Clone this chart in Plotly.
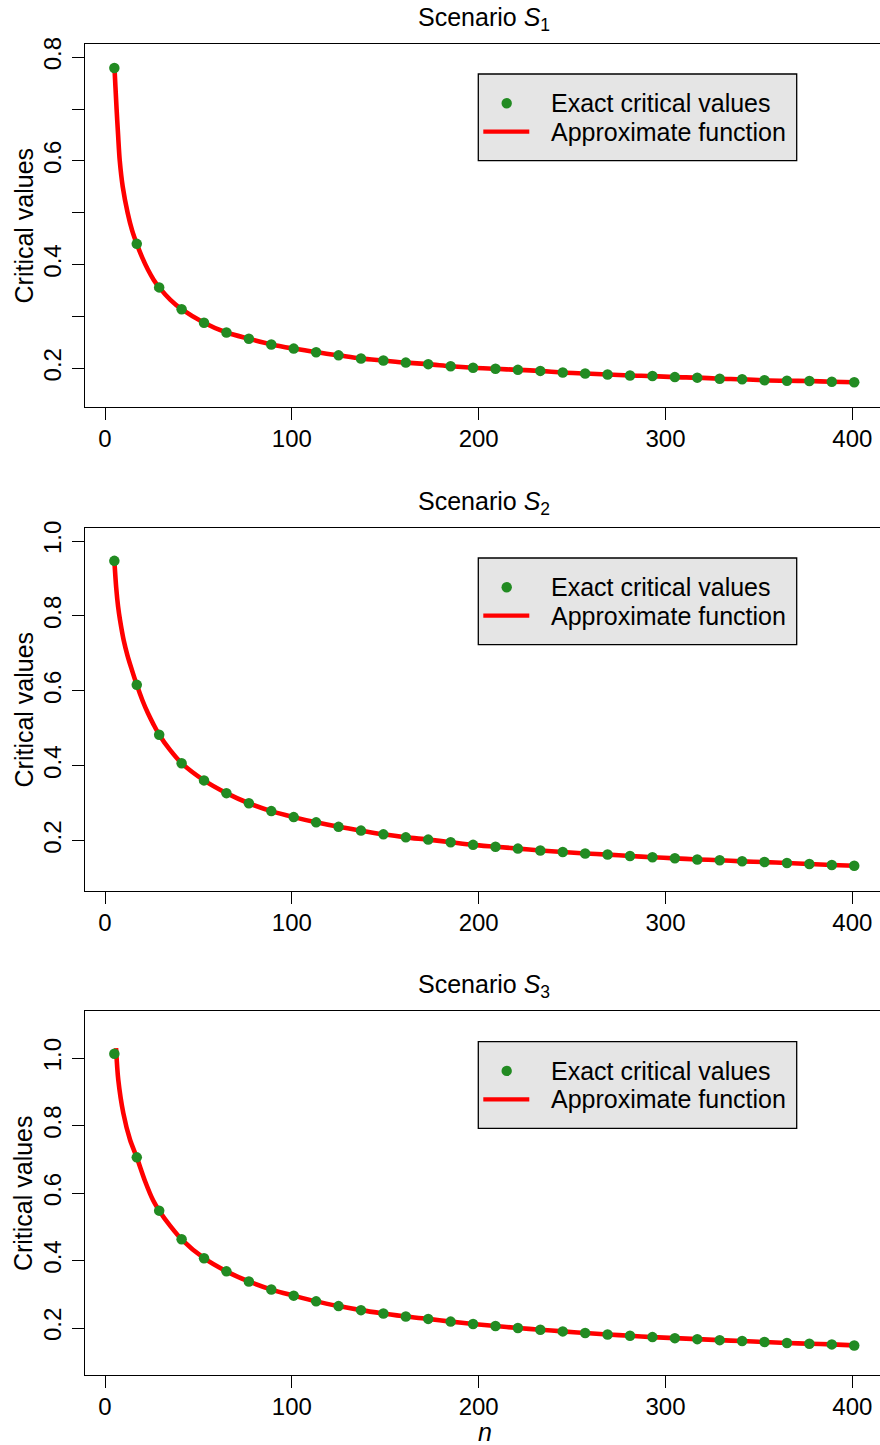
import plotly.graph_objects as go

# ---------------- data ----------------
n_exact = [5, 17, 29, 41, 53, 65, 77, 89, 101, 113, 125, 137, 149, 161, 173, 185, 197,
           209, 221, 233, 245, 257, 269, 281, 293, 305, 317, 329, 341, 353, 365, 377, 389, 401]

s1_exact = [0.779, 0.440, 0.356, 0.314, 0.288, 0.269, 0.257, 0.246, 0.238, 0.231, 0.225, 0.219,
            0.215, 0.211, 0.208, 0.204, 0.201, 0.199, 0.197, 0.195, 0.192, 0.190, 0.188, 0.186,
            0.185, 0.183, 0.182, 0.180, 0.179, 0.177, 0.176, 0.1755, 0.174, 0.173]

s2_exact = [0.947, 0.616, 0.483, 0.407, 0.361, 0.327, 0.300, 0.279, 0.263, 0.249, 0.237, 0.227,
            0.217, 0.209, 0.203, 0.196, 0.189, 0.184, 0.179, 0.174, 0.170, 0.166, 0.163, 0.159,
            0.156, 0.153, 0.150, 0.148, 0.145, 0.143, 0.1405, 0.138, 0.135, 0.133]

s3_exact = [1.013, 0.706, 0.548, 0.463, 0.407, 0.368, 0.338, 0.314, 0.296, 0.279, 0.265, 0.253,
            0.243, 0.234, 0.227, 0.219, 0.212, 0.206, 0.200, 0.195, 0.190, 0.185, 0.181, 0.177,
            0.173, 0.170, 0.167, 0.164, 0.1615, 0.1585, 0.1556, 0.1535, 0.1514, 0.1484]

# approximate-function curves: dense start, then the same n grid as the exact values
n_head_s1 = [5, 5.6, 6.2, 7, 7.9, 9.5, 12.1, 14.5, 17, 20, 23, 26, 29, 35, 41]
s1_head = [0.785, 0.742, 0.700, 0.650, 0.600, 0.550, 0.500, 0.466, 0.440, 0.413, 0.390, 0.371,
           0.356, 0.332, 0.314]

n_head_s2 = [5, 6, 7, 8, 10, 12, 14, 17, 20, 23, 26, 29, 35, 41]
s2_head = [0.947, 0.875, 0.825, 0.790, 0.735, 0.695, 0.662, 0.616, 0.575, 0.540, 0.510, 0.483,
           0.441, 0.407]

n_head_s3 = [5.9, 7.1, 9.8, 13.4, 17, 21.4, 25.8, 29, 35, 41]
s3_head = [1.030, 0.936, 0.837, 0.758, 0.706, 0.636, 0.578, 0.548, 0.502, 0.463]

titles = ["Scenario <i>S</i><sub>1</sub>", "Scenario <i>S</i><sub>2</sub>", "Scenario <i>S</i><sub>3</sub>"]
legend_labels = ["Exact critical values", "Approximate function"]
y_label = "Critical values"
x_label = "<i>n</i>"
x_ticks = [0, 100, 200, 300, 400]

# ---------------- layout constants (pixels) ----------------
W, H = 880, 1445
FONT = "Liberation Sans, Arial, Helvetica, sans-serif"
FS = 25       # titles, legend, axis labels
FS_TICK = 24  # tick labels
GREEN = "#228B22"
RED = "#FF0000"
LEFT = 84.7
PANEL_TOPS = [43.7, 527.7, 1011.3]
PANEL_H = 363.6
X_RANGE = [-10.87, 414.8]
Y_RANGES = [[0.1248, 0.826], [0.065, 1.0355], [0.061, 1.139]]
Y_TICKS = [
    ([0.2, 0.3, 0.4, 0.5, 0.6, 0.7, 0.8], ["0.2", "", "0.4", "", "0.6", "", "0.8"]),
    ([0.2, 0.4, 0.6, 0.8, 1.0], ["0.2", "0.4", "0.6", "0.8", "1.0"]),
    ([0.2, 0.4, 0.6, 0.8, 1.0], ["0.2", "0.4", "0.6", "0.8", "1.0"]),
]


def px(x):
    return x / W


def py(y):
    return 1 - y / H


fig = go.Figure()

series = [
    (s1_exact, n_head_s1, s1_head),
    (s2_exact, n_head_s2, s2_head),
    (s3_exact, n_head_s3, s3_head),
]

shapes = []
annotations = []

for i, (exact, nh, sh) in enumerate(series):
    k = "" if i == 0 else str(i + 1)
    xa, ya = "x" + k, "y" + k
    n_line = nh + n_exact[4:]
    s_line = sh + exact[4:]
    fig.add_trace(go.Scatter(
        x=n_line, y=s_line, mode="lines", xaxis=xa, yaxis=ya,
        line=dict(color=RED, width=4.6, shape="spline", smoothing=0.8),
        showlegend=False, hoverinfo="skip"))
    fig.add_trace(go.Scatter(
        x=n_exact, y=exact, mode="markers", xaxis=xa, yaxis=ya,
        marker=dict(color=GREEN, size=10.5, line=dict(width=0)),
        showlegend=False))

    top = PANEL_TOPS[i]
    bottom = top + PANEL_H
    tv, tt = Y_TICKS[i]
    fig.layout["xaxis" + k] = dict(
        domain=[px(LEFT), 1], range=X_RANGE, anchor=ya, automargin=False,
        tickvals=x_ticks, ticktext=[str(v) for v in x_ticks],
        ticks="outside", ticklen=12, tickwidth=1.3, tickcolor="black",
        showline=True, linecolor="black", linewidth=1.3, mirror=True,
        showgrid=False, zeroline=False, ticklabelstandoff=-2,
        tickfont=dict(family=FONT, size=FS_TICK, color="black"))
    fig.layout["yaxis" + k] = dict(
        domain=[py(bottom), py(top)], range=Y_RANGES[i], anchor=xa, automargin=False,
        tickvals=tv, ticktext=tt, tickangle=-90,
        ticks="outside", ticklen=12, tickwidth=1.3, tickcolor="black",
        showline=True, linecolor="black", linewidth=1.3, mirror=False,
        showgrid=False, zeroline=False, ticklabelstandoff=1,
        tickfont=dict(family=FONT, size=FS_TICK, color="black"))

    # title
    annotations.append(dict(
        text=titles[i], x=px(483.5), y=py(top - 25), xref="paper", yref="paper",
        xanchor="center", yanchor="middle", showarrow=False,
        font=dict(family=FONT, size=FS, color="black")))
    # y-axis label
    annotations.append(dict(
        text=y_label, x=px(23), y=py(top + PANEL_H / 2), xref="paper", yref="paper",
        xanchor="center", yanchor="middle", textangle=-90, showarrow=False,
        font=dict(family=FONT, size=FS, color="black")))

    # legend box
    lt = top + 30.3
    lb = top + 117
    shapes.append(dict(type="rect", xref="paper", yref="paper",
                       x0=px(478.3), x1=px(796.7), y0=py(lb), y1=py(lt),
                       fillcolor="#E5E5E5", line=dict(color="black", width=1.3), layer="above"))
    r1 = top + 59.6
    r2 = top + 88.0
    shapes.append(dict(type="circle", xref="paper", yref="paper",
                       x0=px(506.7 - 5.2), x1=px(506.7 + 5.2), y0=py(r1 + 5.2), y1=py(r1 - 5.2),
                       fillcolor=GREEN, line=dict(width=0), layer="above"))
    shapes.append(dict(type="line", xref="paper", yref="paper",
                       x0=px(483.3), x1=px(529.3), y0=py(r2), y1=py(r2),
                       line=dict(color=RED, width=4.2), layer="above"))
    for lab, ry in zip(legend_labels, [r1, r2]):
        annotations.append(dict(
            text=lab, x=px(549), y=py(ry), xref="paper", yref="paper",
            xanchor="left", yanchor="middle", showarrow=False,
            font=dict(family=FONT, size=FS, color="black")))

# x-axis label on the last panel
annotations.append(dict(
    text=x_label, x=px(485), y=py(1432), xref="paper", yref="paper",
    xanchor="center", yanchor="middle", showarrow=False, height=22, borderpad=0,
    font=dict(family=FONT, size=FS, color="black")))

fig.update_layout(
    width=W, height=H, margin=dict(l=0, r=0, t=0, b=0, pad=0, autoexpand=False),
    paper_bgcolor="white", plot_bgcolor="white",
    shapes=shapes, annotations=annotations, showlegend=False,
    font=dict(family=FONT, size=FS, color="black"))

fig.write_html("out.html",
               config={"displayModeBar": False},
               post_script="document.body.style.margin='0';document.body.style.padding='0';")
